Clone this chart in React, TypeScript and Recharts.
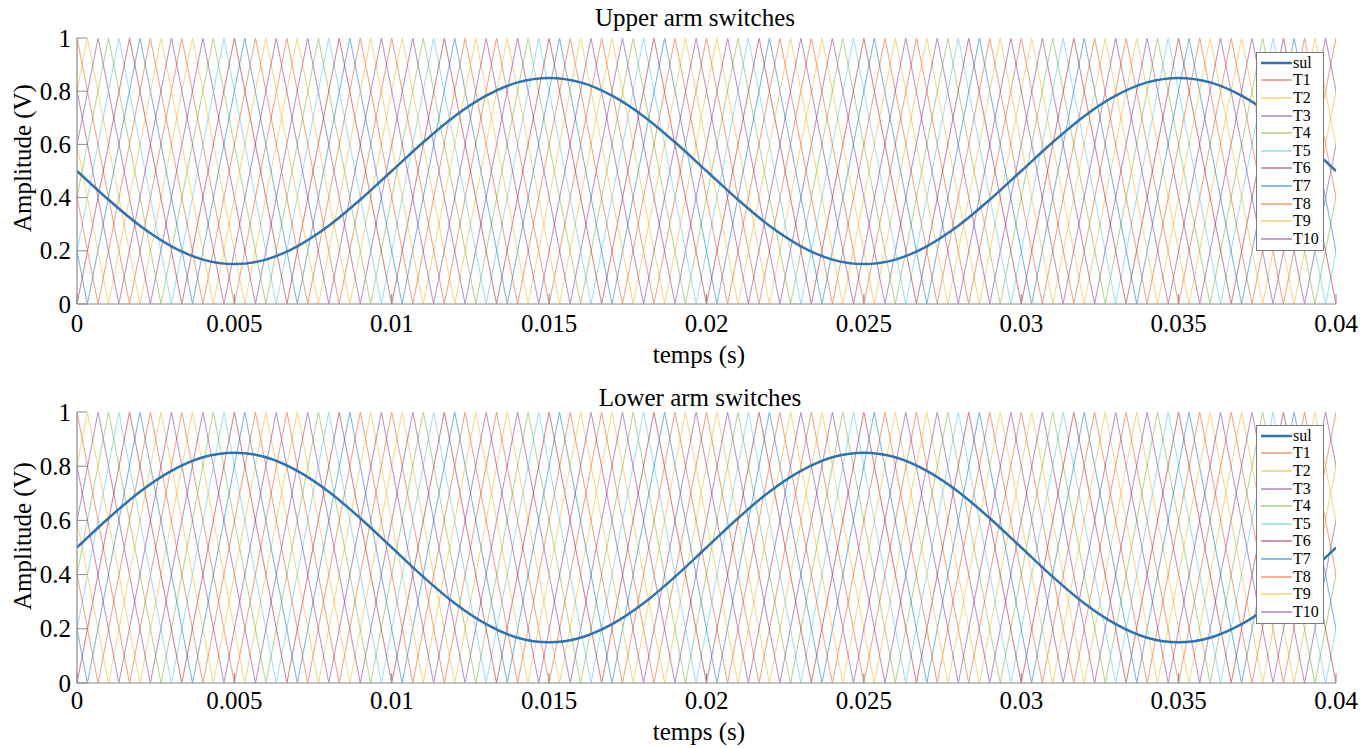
import React from 'react';
import { LineChart, Line, XAxis, YAxis } from 'recharts';

const FONT = 'Liberation Serif, Tinos, Times New Roman, DejaVu Serif, serif';
const AXIS = '#8a8a8a';

// x ticks (seconds) and labels
const xTicks = [0, 0.005, 0.01, 0.015, 0.02, 0.025, 0.03, 0.035, 0.04];
const xTickLabels = ['0', '0.005', '0.01', '0.015', '0.02', '0.025', '0.03', '0.035', '0.04'];
const yTicks = [0, 0.2, 0.4, 0.6, 0.8, 1];
const yTickLabels = ['0', '0.2', '0.4', '0.6', '0.8', '1'];

// modulating signal "sul", sampled every 1 ms (times in ms)
const sulTimesMs = [0, 1, 2, 3, 4, 5, 6, 7, 8, 9, 10, 11, 12, 13, 14, 15, 16, 17, 18, 19, 20,
  21, 22, 23, 24, 25, 26, 27, 28, 29, 30, 31, 32, 33, 34, 35, 36, 37, 38, 39, 40];
const sulUpper = [0.5, 0.392, 0.294, 0.217, 0.167, 0.15, 0.167, 0.217, 0.294, 0.392, 0.5,
  0.608, 0.706, 0.783, 0.833, 0.85, 0.833, 0.783, 0.706, 0.608, 0.5,
  0.392, 0.294, 0.217, 0.167, 0.15, 0.167, 0.217, 0.294, 0.392, 0.5,
  0.608, 0.706, 0.783, 0.833, 0.85, 0.833, 0.783, 0.706, 0.608, 0.5];
const sulLower = [0.5, 0.608, 0.706, 0.783, 0.833, 0.85, 0.833, 0.783, 0.706, 0.608, 0.5,
  0.392, 0.294, 0.217, 0.167, 0.15, 0.167, 0.217, 0.294, 0.392, 0.5,
  0.608, 0.706, 0.783, 0.833, 0.85, 0.833, 0.783, 0.706, 0.608, 0.5,
  0.392, 0.294, 0.217, 0.167, 0.15, 0.167, 0.217, 0.294, 0.392, 0.5];

// triangular carrier vertex times (ms); values alternate between 1 and 0
const vertA = [0, 1.67, 3.33, 5, 6.67, 8.33, 10, 11.67, 13.33, 15, 16.67, 18.33, 20, 21.67, 23.33, 25, 26.67, 28.33, 30, 31.67, 33.33, 35, 36.67, 38.33, 40];
const vertB = [-1.33, 0.33, 2, 3.67, 5.33, 7, 8.67, 10.33, 12, 13.67, 15.33, 17, 18.67, 20.33, 22, 23.67, 25.33, 27, 28.67, 30.33, 32, 33.67, 35.33, 37, 38.67, 40.33];
const vertC = [-1, 0.67, 2.33, 4, 5.67, 7.33, 9, 10.67, 12.33, 14, 15.67, 17.33, 19, 20.67, 22.33, 24, 25.67, 27.33, 29, 30.67, 32.33, 34, 35.67, 37.33, 39, 40.67];
const vertD = [-0.67, 1, 2.67, 4.33, 6, 7.67, 9.33, 11, 12.67, 14.33, 16, 17.67, 19.33, 21, 22.67, 24.33, 26, 27.67, 29.33, 31, 32.67, 34.33, 36, 37.67, 39.33, 41];
const vertE = [-0.33, 1.33, 3, 4.67, 6.33, 8, 9.67, 11.33, 13, 14.67, 16.33, 18, 19.67, 21.33, 23, 24.67, 26.33, 28, 29.67, 31.33, 33, 34.67, 36.33, 38, 39.67, 41.33];

const carrierNames = ['T1', 'T2', 'T3', 'T4', 'T5', 'T6', 'T7', 'T8', 'T9', 'T10'];
const carrierVerts = [vertA, vertB, vertC, vertD, vertE, vertA, vertB, vertC, vertD, vertE];
const carrierStart = [1, 0, 0, 0, 0, 0, 1, 1, 1, 1];
const carrierColors = ['#D95319', '#EDB120', '#7E2F8E', '#77AC30', '#4DBEEE', '#A2142F', '#0072BD', '#D95319', '#EDB120', '#7E2F8E'];
const sulColor = '#2f72ae';

const carriers = carrierNames.map((name, k) => ({
  name,
  color: carrierColors[k],
  data: carrierVerts[k].map((t, i) => ({ t: t / 1000, v: i % 2 === 0 ? carrierStart[k] : 1 - carrierStart[k] })),
}));

const XTick = (props: any) => {
  const { x, y, payload, labelOffset } = props;
  const idx = xTicks.findIndex((v) => Math.abs(v - payload.value) < 1e-9);
  return (
    <g>
      <line x1={x} x2={x} y1={y} y2={y - 10} stroke={AXIS} strokeWidth={1} />
      <text x={x} y={y + labelOffset} textAnchor="middle" dominantBaseline="central" fontSize={25} fontFamily={FONT} fill="#000">
        {idx >= 0 ? xTickLabels[idx] : ''}
      </text>
    </g>
  );
};

const TopTick = (props: any) => {
  const { x, y } = props;
  return <line x1={x} x2={x} y1={y} y2={y + 10} stroke={AXIS} strokeWidth={1} />;
};

const YTick = (props: any) => {
  const { x, y, payload } = props;
  const idx = yTicks.findIndex((v) => Math.abs(v - payload.value) < 1e-9);
  return (
    <g>
      <line x1={x} x2={x + 10} y1={y} y2={y} stroke={AXIS} strokeWidth={1} />
      <text x={x - 6} y={y} textAnchor="end" dominantBaseline="central" fontSize={25} fontFamily={FONT} fill="#000">
        {idx >= 0 ? yTickLabels[idx] : ''}
      </text>
    </g>
  );
};

const RightTick = (props: any) => {
  const { x, y } = props;
  return <line x1={x} x2={x - 10} y1={y} y2={y} stroke={AXIS} strokeWidth={1} />;
};

const legendItems = [{ name: 'sul', color: sulColor, w: 2.5 }, ...carriers.map((c) => ({ name: c.name, color: c.color, w: 2 }))];

const LegendBox = ({ left, top, rowH }: { left: number; top: number; rowH: number }) => (
  <div style={{ position: 'absolute', left, top, border: '1px solid #7a7a7a', background: '#fff', padding: '1px 2px 2px 4px', width: 68, boxSizing: 'border-box' }}>
    {legendItems.map((it) => (
      <div key={it.name} style={{ display: 'flex', alignItems: 'center', height: rowH }}>
        <svg width={31} height={6} style={{ flex: 'none' }}>
          <line x1={0} x2={31} y1={3} y2={3} stroke={it.color} strokeWidth={it.w} strokeOpacity={it.name === 'sul' ? 1 : 0.45} />
        </svg>
        <span style={{ fontFamily: FONT, fontSize: 16, lineHeight: '16px', color: '#000', marginLeft: 1 }}>{it.name}</span>
      </div>
    ))}
  </div>
);

type PanelProps = { sul: number[]; xAxisH: number; labelOffset: number };

const Panel = ({ sul, xAxisH, labelOffset }: PanelProps) => {
  const sulData = sulTimesMs.map((t, i) => ({ t: t / 1000, v: sul[i] }));
  return (
    <LineChart width={1372} height={374} margin={{ top: 38, right: 36, left: 0, bottom: 0 }}>
      <XAxis
        xAxisId="b"
        dataKey="t"
        type="number"
        domain={[0, 0.04]}
        ticks={xTicks}
        allowDataOverflow
        height={xAxisH}
        tickSize={0}
        tickMargin={0}
        axisLine={{ stroke: AXIS, strokeWidth: 1.2 }}
        tickLine={false}
        tick={<XTick labelOffset={labelOffset} />}
        interval={0}
      />
      <XAxis
        xAxisId="top"
        orientation="top"
        dataKey="t"
        type="number"
        domain={[0, 0.04]}
        ticks={xTicks}
        allowDataOverflow
        height={0}
        tickSize={0}
        tickMargin={0}
        axisLine={{ stroke: AXIS, strokeWidth: 1.2 }}
        tickLine={false}
        tick={<TopTick />}
        interval={0}
      />
      <YAxis
        yAxisId="l"
        type="number"
        domain={[0, 1]}
        ticks={yTicks}
        allowDataOverflow
        width={77}
        tickSize={0}
        tickMargin={0}
        axisLine={{ stroke: AXIS, strokeWidth: 1.2 }}
        tickLine={false}
        tick={<YTick />}
        interval={0}
      />
      <YAxis
        yAxisId="r"
        orientation="right"
        type="number"
        domain={[0, 1]}
        ticks={yTicks}
        allowDataOverflow
        width={0}
        tickSize={0}
        tickMargin={0}
        axisLine={{ stroke: AXIS, strokeWidth: 1.2 }}
        tickLine={false}
        tick={<RightTick />}
        interval={0}
      />
      {carriers.map((c) => (
        <Line
          key={c.name}
          xAxisId="b"
          yAxisId="l"
          data={c.data}
          dataKey="v"
          name={c.name}
          type="linear"
          stroke={c.color}
          strokeWidth={1.1}
          strokeOpacity={0.5}
          dot={false}
          activeDot={false}
          isAnimationActive={false}
        />
      ))}
      <Line
        xAxisId="b"
        yAxisId="l"
        data={sulData}
        dataKey="v"
        name="sul"
        type="monotone"
        stroke={sulColor}
        strokeWidth={2.5}
        dot={false}
        activeDot={false}
        isAnimationActive={false}
      />
    </LineChart>
  );
};

const textStyle: React.CSSProperties = { position: 'absolute', fontFamily: FONT, fontSize: 25, color: '#000', whiteSpace: 'nowrap', lineHeight: '26px' };

export default function App() {
  return (
    <div style={{ position: 'absolute', left: 0, top: 0, width: 1372, height: 748, background: '#fff' }}>
      <div style={{ position: 'absolute', left: 0, top: 0 }}>
        <Panel sul={sulUpper} xAxisH={70} labelOffset={19} />
      </div>
      <div style={{ position: 'absolute', left: 0, top: 374 }}>
        <Panel sul={sulLower} xAxisH={65} labelOffset={17} />
      </div>
      <LegendBox left={1256} top={52} rowH={17.6} />
      <LegendBox left={1256} top={425} rowH={17.6} />
      <div style={{ ...textStyle, left: 695, top: 5, transform: 'translateX(-50%)' }}>Upper arm switches</div>
      <div style={{ ...textStyle, left: 699, top: 342, transform: 'translateX(-50%)' }}>temps (s)</div>
      <div style={{ ...textStyle, left: 23, top: 158, transform: 'translate(-50%, -50%) rotate(-90deg)' }}>Amplitude (V)</div>
      <div style={{ ...textStyle, left: 700, top: 385, transform: 'translateX(-50%)' }}>Lower arm switches</div>
      <div style={{ ...textStyle, left: 699, top: 719, transform: 'translateX(-50%)' }}>temps (s)</div>
      <div style={{ ...textStyle, left: 23, top: 536, transform: 'translate(-50%, -50%) rotate(-90deg)' }}>Amplitude (V)</div>
    </div>
  );
}
